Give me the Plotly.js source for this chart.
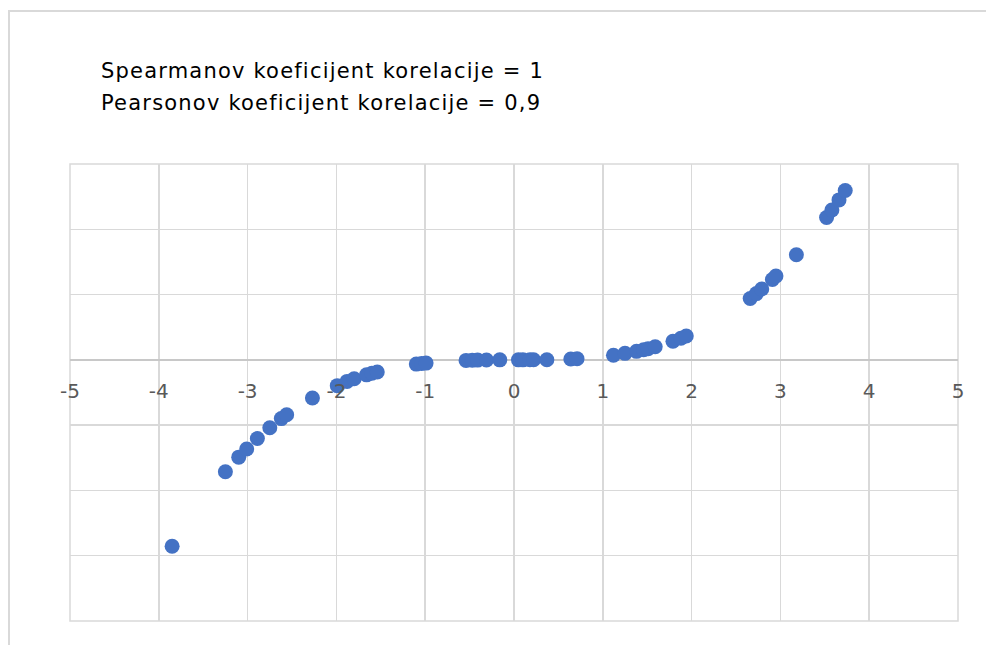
<!DOCTYPE html>
<html>
<head>
<meta charset="utf-8">
<script src="https://cdn.plot.ly/plotly-3.0.1.min.js"></script>
<style>
html,body{margin:0;padding:0;background:#fff;}
#chart{width:986px;height:645px;position:absolute;left:0;top:0;}
#frame{position:absolute;left:8px;top:10px;width:990px;height:650px;border-left:2px solid #d9d9d9;border-top:2px solid #d9d9d9;pointer-events:none;}
</style>
</head>
<body>
<div id="chart"></div>
<div id="frame"></div>
<script>
const xValues = [-3.85, -3.25, -3.10, -3.01, -2.89, -2.75, -2.62, -2.56, -2.27, -1.99, -1.88, -1.80, -1.66, -1.60, -1.54,
  -1.10, -1.04, -0.99, -0.54, -0.47, -0.41, -0.31, -0.16, 0.05, 0.10, 0.18, 0.22, 0.37, 0.64, 0.71,
  1.12, 1.25, 1.38, 1.46, 1.51, 1.59, 1.79, 1.88, 1.94, 2.66, 2.73, 2.79, 2.91, 2.95, 3.18, 3.52, 3.58, 3.66, 3.73];
const yValues = [-57.1, -34.3, -29.8, -27.3, -24.1, -20.8, -18.0, -16.8, -11.7, -7.9, -6.6, -5.8, -4.6, -4.1, -3.7,
  -1.3, -1.1, -1.0, -0.16, -0.10, -0.07, -0.03, 0.0, 0.0, 0.0, 0.01, 0.01, 0.05, 0.26, 0.36,
  1.4, 2.0, 2.6, 3.1, 3.4, 4.0, 5.7, 6.6, 7.3, 18.8, 20.3, 21.7, 24.6, 25.7, 32.2, 43.6, 45.9, 49.0, 51.9];
const xTickValues = [-5, -4, -3, -2, -1, 0, 1, 2, 3, 4, 5];
const xTickLabels = ["-5", "-4", "-3", "-2", "-1", "0", "1", "2", "3", "4", "5"];
const annotationLines = ["Spearmanov koeficijent korelacije = 1", "Pearsonov koeficijent korelacije = 0,9"];

const FONT = "'DejaVu Sans', Lato, sans-serif";

const trace = {
  type: "scatter",
  mode: "markers",
  x: xValues,
  y: yValues,
  marker: {color: "#4472C4", size: 15, line: {width: 0}},
  hoverinfo: "x+y",
  showlegend: false
};

function spaced(t) {
  return '<span style="letter-spacing:1.2px">' + t + '</span>';
}

const layout = {
  width: 986,
  height: 645,
  margin: {l: 70, r: 28, t: 164, b: 24, pad: 0},
  paper_bgcolor: "#ffffff",
  plot_bgcolor: "#ffffff",
  font: {family: FONT, color: "#595959"},
  xaxis: {
    range: [-5, 5],
    tickvals: xTickValues,
    ticktext: xTickLabels,
    showgrid: true,
    gridcolor: "#d9d9d9",
    gridwidth: 1.5,
    zeroline: false,
    showline: false,
    ticks: "",
    anchor: "free",
    position: 80 / 140,
    ticklabelstandoff: 17,
    tickfont: {family: FONT, size: 20, color: "#595959"},
    fixedrange: true
  },
  yaxis: {
    range: [-80, 60],
    dtick: 20,
    tick0: 0,
    showgrid: true,
    gridcolor: "#d9d9d9",
    gridwidth: 1.5,
    zeroline: true,
    zerolinecolor: "#c8c8c8",
    zerolinewidth: 2,
    showticklabels: false,
    ticks: "",
    showline: false,
    fixedrange: true
  },
  shapes: [{
    type: "rect", xref: "paper", yref: "paper", x0: 0, x1: 1, y0: 0, y1: 1,
    line: {color: "#d9d9d9", width: 1.5}, layer: "below"
  }],
  annotations: [
    {text: spaced(annotationLines[0]), xref: "paper", yref: "paper", x: 29 / 888, y: (621 - 71) / 457,
     xanchor: "left", yanchor: "middle", showarrow: false, font: {family: FONT, size: 21, color: "#000000"}},
    {text: spaced(annotationLines[1]), xref: "paper", yref: "paper", x: 29 / 888, y: (621 - 103) / 457,
     xanchor: "left", yanchor: "middle", showarrow: false, font: {family: FONT, size: 21, color: "#000000"}}
  ]
};

Plotly.newPlot("chart", [trace], layout, {displayModeBar: false, staticPlot: true});
</script>
</body>
</html>
